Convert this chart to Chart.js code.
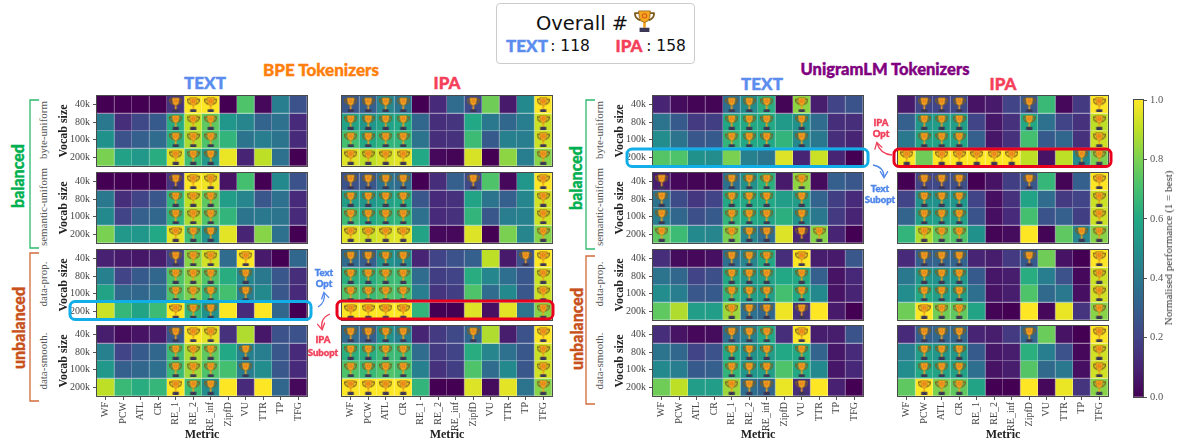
<!DOCTYPE html>
<html>
<head>
<meta charset="utf-8">
<title>Tokenizer heatmaps</title>
<script src="https://cdn.jsdelivr.net/npm/chart.js@4/dist/chart.umd.min.js"></script>
<style>
    body { margin: 0; background: #fff; }
    #page { position: relative; width: 1180px; height: 443px; overflow: hidden; }
    #page canvas { position: absolute; }
    #overlay { position: absolute; left: 0; top: 0; }
    .txt { position: absolute; white-space: nowrap; transform: translate(-50%, -50%); }
    .vert { transform: translate(-50%, -50%) rotate(-90deg); }
    .hand { font-family: "Lato"; font-weight: 900; -webkit-text-stroke: 0.4px currentColor; }
    .serif { font-family: "Liberation Serif"; color: #555; }
    #box { position: absolute; left: 496px; top: 3px; width: 197px; height: 59px; border: 1.5px solid #ccc; border-radius: 4px; }
</style>
</head>
<body>
<div id="page">
    <div id="box"></div>
    <svg id="overlay" width="1180" height="443" style="z-index:5">
        <defs>
            <marker id="headBlue" markerWidth="7" markerHeight="7" refX="5" refY="3.5" orient="auto"><path d="M0.5 0.5L5.5 3.5L0.5 6.5" fill="none" stroke="#4f86ea" stroke-width="1"/></marker>
            <marker id="headRed" markerWidth="7" markerHeight="7" refX="5" refY="3.5" orient="auto"><path d="M0.5 0.5L5.5 3.5L0.5 6.5" fill="none" stroke="#f0405a" stroke-width="1"/></marker>
        </defs>
        <!-- brackets -->
        <g fill="none" stroke-width="1.3">
            <path d="M39 100H30V248H39" stroke="#2bbb6d"/>
            <path d="M39 253H30V401H39" stroke="#d2693a"/>
            <path d="M595 100H586V249H595" stroke="#2bbb6d"/>
            <path d="M595 256H586V404H595" stroke="#d2693a"/>
        </g>
        <!-- highlighted rows -->
        <g fill="none" stroke-width="3">
            <rect x="70" y="301.5" width="241" height="18" rx="5" stroke="#12aee8"/>
            <rect x="337" y="301" width="216" height="18" rx="5" stroke="#e8001c"/>
            <rect x="627" y="149" width="241" height="17.5" rx="5" stroke="#12aee8"/>
            <rect x="894" y="149" width="217" height="17.5" rx="5" stroke="#e8001c"/>
        </g>
        <!-- arrows -->
        <g fill="none" stroke-width="1.3">
            <path d="M318 307Q326 302 324 293" stroke="#4f86ea" marker-end="url(#headBlue)"/>
            <path d="M330 314Q320 318 322 329" stroke="#f0405a" marker-end="url(#headRed)"/>
            <path d="M892 155Q880 154 877 143" stroke="#f0405a" marker-end="url(#headRed)"/>
            <path d="M873 165Q884 167 884 177" stroke="#4f86ea" marker-end="url(#headBlue)"/>
        </g>
    </svg>
</div>
<script>
const metrics = ['WF', 'PCW', 'ATL', 'CR', 'RE_1', 'RE_2', 'RE_inf', 'ZipfD', 'VU', 'TTR', 'TP', 'TFG'];
const vocabSizes = ['40k', '80k', '100k', '200k'];
const colorbarTicks = [0, 0.2, 0.4, 0.6, 0.8, 1];

// Values per panel, one row per vocab size
const bpeTextByte = [
    [0, 0, 0, 0, .15, 1, 1, 0, .72, .02, .42, .25],
    [.4, .13, .22, .28, .62, .9, .75, .52, .45, .32, .37, .12],
    [.5, .25, .3, .35, .63, .87, .72, .65, .38, .42, .38, .12],
    [.8, .57, .53, .62, .95, .68, .53, .97, .1, .9, .37, 0]
];
const bpeTextSemantic = [
    [0, 0, 0, 0, .16, 1, .98, .05, .7, 0, .47, .25],
    [.4, .13, .2, .27, .65, .9, .75, .55, .45, .27, .37, .12],
    [.47, .2, .3, .33, .65, .87, .72, .65, .38, .4, .38, .12],
    [.8, .53, .52, .6, .96, .68, .5, .96, .1, .82, .37, 0]
];
const bpeTextProp = [
    [.09, .07, .06, .08, .2, .82, .93, .35, 1, .07, 0, .33],
    [.43, .2, .28, .33, .72, .82, .72, .62, .46, .4, .27, .13],
    [.58, .34, .33, .37, .72, .8, .65, .7, .42, .47, .27, .12],
    [.92, .66, .58, .68, 1, .65, .5, 1, .12, 1, .33, 0]
];
const bpeTextSmooth = [
    [.08, .03, .05, .07, .27, 1, .96, .14, .88, .06, .25, .25],
    [.43, .2, .28, .33, .68, .87, .75, .6, .43, .42, .27, .12],
    [.53, .3, .33, .37, .68, .85, .72, .7, .42, .48, .27, .12],
    [.9, .67, .62, .66, 1, .68, .48, 1, .12, 1, .33, .02]
];
const bpeIpaByte = [
    [.27, .3, .45, .38, 0, .12, .35, .22, .78, .07, .47, 1],
    [.58, .52, .58, .6, .33, .13, .15, .6, .4, .33, .42, .92],
    [.7, .6, .65, .65, .38, .13, .14, .68, .28, .43, .42, .92],
    [.95, .9, .94, .96, .6, .02, .01, .94, 0, .83, .42, .82]
];
const bpeIpaSemantic = [
    [.25, .27, .38, .35, 0, .13, .3, .22, .72, .02, .52, 1],
    [.55, .52, .57, .6, .27, .12, .14, .58, .38, .3, .46, .93],
    [.68, .6, .64, .65, .37, .12, .14, .65, .27, .42, .43, .92],
    [.96, .92, .95, .96, .58, .02, .02, .95, 0, .8, .45, .82]
];
const bpeIpaProp = [
    [.35, .3, .5, .47, .1, .2, .25, .3, .9, .07, .25, 1],
    [.63, .62, .68, .68, .35, .18, .2, .62, .46, .36, .27, .92],
    [.72, .67, .72, .7, .42, .15, .18, .72, .35, .47, .27, .92],
    [1, 1, 1, 1, .65, 0, 0, .95, .04, .96, .38, .82]
];
const bpeIpaSmooth = [
    [.35, .3, .5, .43, .1, .17, .22, .33, .88, .08, .25, 1],
    [.63, .62, .68, .67, .35, .17, .2, .62, .45, .37, .27, .92],
    [.72, .67, .72, .7, .43, .14, .18, .72, .35, .47, .27, .93],
    [1, 1, 1, 1, .65, 0, 0, .95, .03, .96, .38, .82]
];
const uniTextByte = [
    [.1, .03, .01, .01, .37, .48, .62, .01, .83, .08, .2, .26],
    [.38, .28, .17, .18, .6, .6, .6, .54, .5, .35, .13, .13],
    [.48, .38, .27, .28, .65, .6, .6, .65, .47, .4, .13, .1],
    [.73, .72, .5, .48, .8, .43, .38, .95, .1, .92, .1, 0]
];
const uniTextSemantic = [
    [.08, .02, .01, .01, .37, .5, .63, .07, .83, .03, .3, .27],
    [.38, .23, .16, .2, .6, .6, .6, .55, .55, .32, .18, .12],
    [.42, .33, .24, .28, .65, .6, .58, .63, .5, .4, .17, .1],
    [.75, .68, .47, .45, .8, .45, .35, .95, .1, .82, .1, 0]
];
const uniTextProp = [
    [.13, .03, .02, .04, .37, .45, .6, .13, 1, .08, .07, .27],
    [.38, .33, .2, .24, .6, .53, .57, .6, .6, .3, .05, .11],
    [.48, .42, .27, .28, .65, .55, .55, .7, .6, .47, .05, .1],
    [.75, .88, .55, .55, .85, .37, .33, .98, .14, 1, .07, 0]
];
const uniTextSmooth = [
    [.13, .05, .02, .03, .37, .43, .6, .13, 1, .08, .08, .26],
    [.38, .33, .2, .25, .6, .5, .55, .6, .6, .32, .06, .12],
    [.47, .42, .28, .3, .65, .52, .55, .72, .6, .47, .06, .11],
    [.78, .9, .55, .55, .85, .36, .32, .97, .13, 1, .09, 0]
];
const uniIpaByte = [
    [.07, .2, .2, .22, .05, .07, .2, .27, .67, .02, .17, 1],
    [.3, .52, .55, .55, .2, .06, .14, .6, .37, .2, .14, .9],
    [.4, .58, .58, .58, .3, .06, .14, .7, .28, .33, .14, .92],
    [1, .78, 1, 1, 1, 1, 1, .9, .05, .9, .47, .8]
];
const uniIpaSemantic = [
    [0, .2, .22, .24, 0, .05, .18, .27, .66, .01, .3, 1],
    [.2, .5, .5, .52, .2, .04, .14, .58, .35, .17, .2, .92],
    [.32, .55, .55, .55, .26, .04, .12, .7, .26, .3, .18, .92],
    [.65, .88, .75, .72, .5, .01, .03, 1, .01, .75, .45, .82]
];
const uniIpaProp = [
    [.12, .3, .32, .32, .1, .08, .17, .28, .78, .05, 0, 1],
    [.4, .52, .5, .52, .28, .06, .08, .62, .42, .25, .02, .92],
    [.48, .6, .55, .55, .36, .05, .08, .72, .34, .4, .04, .93],
    [.78, 1, .78, .75, .58, .01, 0, 1, .02, .97, .15, .82]
];
const uniIpaSmooth = [
    [.12, .3, .33, .33, .1, .08, .17, .33, .77, .05, 0, 1],
    [.42, .55, .52, .52, .28, .06, .08, .63, .42, .25, .02, .93],
    [.48, .6, .58, .57, .36, .05, .08, .73, .34, .4, .04, .93],
    [.75, 1, .8, .75, .58, 0, 0, 1, .02, .97, .15, .82]
];

// Metrics that won a trophy, per vocab size
const bpeTextByteWins = [['RE_1', 'RE_2', 'RE_inf'], ['RE_1', 'RE_2', 'RE_inf'], ['RE_1', 'RE_2', 'RE_inf'], ['RE_1', 'RE_2', 'RE_inf']];
const bpeTextSemanticWins = [['RE_1', 'RE_2', 'RE_inf'], ['RE_1', 'RE_2', 'RE_inf'], ['RE_1', 'RE_2', 'RE_inf'], ['RE_1', 'RE_2', 'RE_inf']];
const bpeTextPropWins = [['RE_1', 'RE_2', 'RE_inf', 'VU'], ['RE_1', 'RE_2', 'RE_inf', 'VU'], ['RE_1', 'RE_2', 'RE_inf', 'VU'], ['RE_1', 'RE_2', 'RE_inf']];
const bpeTextSmoothWins = [['RE_1', 'RE_2', 'RE_inf'], ['RE_1', 'RE_2', 'RE_inf', 'VU'], ['RE_1', 'RE_2', 'RE_inf', 'VU'], ['RE_1', 'RE_2', 'RE_inf']];
const bpeIpaByteWins = [['WF', 'PCW', 'ATL', 'CR', 'ZipfD', 'TFG'], ['WF', 'PCW', 'ATL', 'CR', 'TFG'], ['WF', 'PCW', 'ATL', 'CR', 'TFG'], ['WF', 'PCW', 'ATL', 'CR', 'TFG']];
const bpeIpaSemanticWins = [['WF', 'PCW', 'ATL', 'CR', 'ZipfD', 'TFG'], ['WF', 'PCW', 'ATL', 'CR', 'TFG'], ['WF', 'PCW', 'ATL', 'CR', 'TFG'], ['WF', 'PCW', 'ATL', 'CR', 'TFG']];
const bpeIpaPropWins = [['WF', 'PCW', 'ATL', 'CR', 'TP', 'TFG'], ['WF', 'PCW', 'ATL', 'CR', 'TFG'], ['WF', 'PCW', 'ATL', 'CR', 'TFG'], ['WF', 'PCW', 'ATL', 'CR', 'TFG']];
const bpeIpaSmoothWins = [['WF', 'PCW', 'ATL', 'CR', 'ZipfD', 'TFG'], ['WF', 'PCW', 'ATL', 'CR', 'TFG'], ['WF', 'PCW', 'ATL', 'CR', 'TFG'], ['WF', 'PCW', 'ATL', 'CR', 'TFG']];
const uniTextByteWins = [['RE_1', 'RE_2', 'RE_inf', 'VU'], ['RE_1', 'RE_2', 'RE_inf', 'VU'], ['RE_1', 'RE_2', 'RE_inf', 'VU'], []];
const uniTextSemanticWins = [['WF', 'RE_1', 'RE_2', 'RE_inf', 'VU'], ['WF', 'RE_1', 'RE_2', 'RE_inf', 'VU'], ['WF', 'RE_1', 'RE_2', 'RE_inf', 'VU'], ['WF', 'RE_1', 'RE_2', 'RE_inf', 'VU', 'TTR']];
const uniTextPropWins = [['RE_1', 'RE_2', 'RE_inf', 'VU'], ['RE_1', 'RE_2', 'RE_inf', 'VU'], ['RE_1', 'RE_2', 'RE_inf', 'VU'], ['RE_1', 'RE_2', 'RE_inf', 'VU']];
const uniTextSmoothWins = [['RE_1', 'RE_2', 'RE_inf', 'VU'], ['RE_1', 'RE_2', 'RE_inf', 'VU'], ['RE_1', 'RE_2', 'RE_inf', 'VU'], ['RE_1', 'RE_2', 'RE_inf', 'VU']];
const uniIpaByteWins = [['PCW', 'ATL', 'CR', 'ZipfD', 'TFG'], ['PCW', 'ATL', 'CR', 'ZipfD', 'TFG'], ['PCW', 'ATL', 'CR', 'TFG'], ['WF', 'ATL', 'CR', 'RE_1', 'RE_2', 'RE_inf', 'TP', 'TFG']];
const uniIpaSemanticWins = [['PCW', 'ATL', 'CR', 'ZipfD', 'TFG'], ['PCW', 'ATL', 'CR', 'TFG'], ['PCW', 'ATL', 'CR', 'TFG'], ['PCW', 'ATL', 'CR', 'TP', 'TFG']];
const uniIpaPropWins = [['PCW', 'ATL', 'CR', 'ZipfD', 'TFG'], ['PCW', 'ATL', 'CR', 'TFG'], ['PCW', 'ATL', 'CR', 'TFG'], ['PCW', 'ATL', 'CR', 'TFG']];
const uniIpaSmoothWins = [['PCW', 'ATL', 'CR', 'ZipfD', 'TFG'], ['PCW', 'ATL', 'CR', 'TFG'], ['PCW', 'ATL', 'CR', 'TFG'], ['PCW', 'ATL', 'CR', 'TFG']];

// Layout of the panel grid
const panelLefts = [97, 342, 653, 898];
const panelTops = [96, 173, 250, 326];
const panelWidth = 210;
const panelHeight = 70;
const panels = [
    [bpeTextByte, bpeTextByteWins], [bpeIpaByte, bpeIpaByteWins], [uniTextByte, uniTextByteWins], [uniIpaByte, uniIpaByteWins],
    [bpeTextSemantic, bpeTextSemanticWins], [bpeIpaSemantic, bpeIpaSemanticWins], [uniTextSemantic, uniTextSemanticWins], [uniIpaSemantic, uniIpaSemanticWins],
    [bpeTextProp, bpeTextPropWins], [bpeIpaProp, bpeIpaPropWins], [uniTextProp, uniTextPropWins], [uniIpaProp, uniIpaPropWins],
    [bpeTextSmooth, bpeTextSmoothWins], [bpeIpaSmooth, bpeIpaSmoothWins], [uniTextSmooth, uniTextSmoothWins], [uniIpaSmooth, uniIpaSmoothWins]
];

const viridisStops = ['#440154', '#482475', '#414487', '#355f8d', '#2a788e', '#21918c', '#22a884', '#44bf70', '#7ad151', '#bddf26', '#fde725'];

function hexToRgb(hex) {
    return [1, 3, 5].map(i => parseInt(hex.slice(i, i + 2), 16));
}

function viridisRgb(v) {
    const pos = Math.min(Math.max(v, 0), 1) * (viridisStops.length - 1);
    const i = Math.min(Math.floor(pos), viridisStops.length - 2);
    const a = hexToRgb(viridisStops[i]);
    const b = hexToRgb(viridisStops[i + 1]);
    return a.map((c, k) => Math.round(c + (b[k] - c) * (pos - i)));
}

function viridis(v) {
    return `rgb(${viridisRgb(v).join(',')})`;
}

// Cell divider: the cell colour washed with white
function viridisLine(v) {
    return `rgb(${viridisRgb(v).map(c => Math.round(c + (255 - c) * 0.4)).join(',')})`;
}

function drawTrophy(ctx, w, h) {
    ctx.save();
    ctx.scale(w / 32, h / 36);
    ctx.lineJoin = 'round';
    // handles
    ctx.strokeStyle = '#7d5c1e';
    ctx.lineWidth = 2.8;
    ctx.beginPath();
    ctx.moveTo(8, 5);
    ctx.lineTo(1.5, 5);
    ctx.quadraticCurveTo(1, 14, 10, 17);
    ctx.moveTo(24, 5);
    ctx.lineTo(30.5, 5);
    ctx.quadraticCurveTo(31, 14, 22, 17);
    ctx.stroke();
    // stem
    ctx.fillStyle = '#f2a11d';
    ctx.fillRect(14, 20, 4, 9);
    // cup
    ctx.beginPath();
    ctx.moveTo(7, 1.5);
    ctx.lineTo(25, 1.5);
    ctx.lineTo(24, 12);
    ctx.quadraticCurveTo(23, 19, 16, 20.5);
    ctx.quadraticCurveTo(9, 19, 8, 12);
    ctx.closePath();
    ctx.fillStyle = '#f4a71f';
    ctx.fill();
    ctx.strokeStyle = '#8d5f14';
    ctx.lineWidth = 1.2;
    ctx.stroke();
    // star
    ctx.beginPath();
    ctx.arc(16, 9.5, 3.4, 0, Math.PI * 2);
    ctx.strokeStyle = '#d9541a';
    ctx.lineWidth = 1.6;
    ctx.stroke();
    // base
    ctx.fillStyle = '#3b3654';
    ctx.fillRect(8.5, 29, 15, 7);
    ctx.restore();
}

const trophy = document.createElement('canvas');
trophy.width = 13;
trophy.height = 15;
drawTrophy(trophy.getContext('2d'), 13, 15);

const page = document.getElementById('page');

function addCanvas(left, top, width, height) {
    const canvas = document.createElement('canvas');
    canvas.width = width;
    canvas.height = height;
    canvas.style.left = left + 'px';
    canvas.style.top = top + 'px';
    canvas.style.width = width + 'px';
    canvas.style.height = height + 'px';
    page.appendChild(canvas);
    return canvas;
}

function addText(text, x, y, className, style) {
    const el = document.createElement('div');
    el.className = 'txt ' + className;
    el.textContent = text;
    el.style.left = x + 'px';
    el.style.top = y + 'px';
    Object.assign(el.style, style);
    page.appendChild(el);
}

// Panel frame on all four sides
const framePlugin = {
    id: 'frame',
    afterDraw(chart) {
        const { left, top, width, height } = chart.chartArea;
        chart.ctx.save();
        chart.ctx.strokeStyle = '#4a4a4a';
        chart.ctx.lineWidth = 1;
        chart.ctx.strokeRect(left - 0.5, top - 0.5, width + 1, height + 1);
        chart.ctx.restore();
    }
};

// Fixed axis size with no edge padding, so that the plot area lands exactly on the panel
function fixAxis(scale, size) {
    if (scale.isHorizontal()) {
        scale.height = size;
    } else {
        scale.width = size;
    }
    scale.paddingLeft = 0;
    scale.paddingRight = 0;
    scale.paddingTop = 0;
    scale.paddingBottom = 0;
}

function buildPanel(values, wins, col, row) {
    const showY = col === 0 || col === 2;
    const showX = row === 3;
    const marginLeft = showY ? 40 : 1;
    const marginBottom = showX ? 47 : 1;
    const canvas = addCanvas(panelLefts[col] - marginLeft, panelTops[row] - 1, panelWidth + marginLeft + 1, panelHeight + marginBottom + 1);

    const datasets = values.map((rowValues, r) => ({
        type: 'bar',
        data: rowValues.map(() => [r, r + 1]),
        backgroundColor: rowValues.map(viridis),
        borderColor: rowValues.map(viridisLine),
        borderWidth: { top: 0, left: 0, right: 1, bottom: 1 },
        borderSkipped: false,
        xAxisID: 'x',
        yAxisID: 'yBars',
        order: 1
    }));
    datasets.push({
        type: 'scatter',
        data: wins.flatMap((names, r) => names.map(name => ({ x: name, y: vocabSizes[r] }))),
        pointStyle: trophy,
        pointRadius: 7,
        xAxisID: 'x',
        yAxisID: 'y',
        order: 0
    });

    new Chart(canvas, {
        type: 'bar',
        data: { labels: metrics, datasets },
        plugins: [framePlugin],
        options: {
            responsive: false,
            animation: false,
            devicePixelRatio: 1,
            layout: { autoPadding: false, padding: { left: showY ? 0 : 1, top: 1, right: 1, bottom: showX ? 0 : 1 } },
            plugins: { legend: { display: false }, tooltip: { enabled: false } },
            datasets: { bar: { grouped: false, barPercentage: 1, categoryPercentage: 1 } },
            scales: {
                x: {
                    type: 'category',
                    offset: true,
                    display: showX,
                    afterFit: scale => fixAxis(scale, showX ? marginBottom : 0),
                    grid: { offset: false, drawOnChartArea: false, tickLength: 4, tickColor: '#555' },
                    border: { display: false },
                    ticks: { autoSkip: false, minRotation: 90, maxRotation: 90, padding: 2, color: '#444', font: { family: 'Liberation Serif', size: 10 } },
                    title: { display: true, text: 'Metric', color: '#222', padding: { top: 0, bottom: 1 }, font: { family: 'Liberation Serif', size: 12, weight: 'bold' } }
                },
                y: {
                    type: 'category',
                    labels: vocabSizes,
                    offset: true,
                    display: showY,
                    afterFit: scale => fixAxis(scale, showY ? marginLeft : 0),
                    grid: { offset: false, drawOnChartArea: false, tickLength: 4, tickColor: '#555' },
                    border: { display: false },
                    ticks: { autoSkip: false, padding: 3, color: '#444', font: { family: 'Liberation Serif', size: 10 } },
                    title: { display: true, text: 'Vocab size', color: '#222', padding: 0, font: { family: 'Liberation Serif', size: 12, weight: 'bold' } }
                },
                yBars: { type: 'linear', min: 0, max: vocabSizes.length, reverse: true, display: false }
            }
        }
    });
}

panels.forEach((panel, i) => buildPanel(panel[0], panel[1], i % 4, Math.floor(i / 4)));

// Colorbar
function viridisGradient(context) {
    const area = context.chart.chartArea;
    if (!area) return viridisStops[5];
    const gradient = context.chart.ctx.createLinearGradient(0, area.bottom, 0, area.top);
    viridisStops.forEach((stop, i) => gradient.addColorStop(i / (viridisStops.length - 1), stop));
    return gradient;
}

new Chart(addCanvas(1133, 95, 47, 307), {
    type: 'bar',
    data: { labels: [''], datasets: [{ data: [[0, 1]], backgroundColor: viridisGradient, barPercentage: 1, categoryPercentage: 1 }] },
    plugins: [framePlugin],
    options: {
        responsive: false,
        animation: false,
        devicePixelRatio: 1,
        layout: { autoPadding: false, padding: { left: 1, top: 5, right: 0, bottom: 5 } },
        plugins: { legend: { display: false }, tooltip: { enabled: false } },
        scales: {
            x: { display: false },
            y: {
                position: 'right',
                min: 0,
                max: 1,
                afterBuildTicks: scale => { scale.ticks = colorbarTicks.map(value => ({ value })); },
                afterFit: scale => fixAxis(scale, 37),
                grid: { drawOnChartArea: false, tickLength: 4, tickColor: '#555' },
                border: { display: false },
                ticks: { padding: 3, color: '#555', font: { family: 'Liberation Serif', size: 10.5 }, callback: v => v.toFixed(1) }
            }
        }
    }
});
addText('Normalised performance (1 = best)', 1168, 248, 'serif vert', { fontSize: '11px', color: '#333' });

// Headings
addText('BPE Tokenizers', 321, 69, 'hand', { fontSize: '17px', color: '#ff7f0e' });
addText('UnigramLM Tokenizers', 885, 69, 'hand', { fontSize: '16.5px', color: '#800080' });
[[205, 82, 'TEXT'], [762, 83, 'TEXT']].forEach(t => addText(t[2], t[0], t[1], 'hand', { fontSize: '17px', color: '#5b8def' }));
[[447, 82, 'IPA'], [1003, 83, 'IPA']].forEach(t => addText(t[2], t[0], t[1], 'hand', { fontSize: '17px', color: '#f5405a' }));

// Group labels at the left of each block
addText('balanced', 17, 176, 'hand vert', { fontSize: '16px', color: '#00b050' });
addText('balanced', 575, 178, 'hand vert', { fontSize: '16px', color: '#00b050' });
addText('unbalanced', 18, 328, 'hand vert', { fontSize: '16px', color: '#c8511b' });
addText('unbalanced', 576, 329, 'hand vert', { fontSize: '16px', color: '#c8511b' });

const strategyNames = ['byte-uniform', 'semantic-uniform', 'data-prop.', 'data-smooth.'];
const strategyCenters = [130, 207, 284, 361];
strategyNames.forEach((name, i) => {
    addText(name, 43, strategyCenters[i], 'serif vert', { fontSize: '11px' });
    addText(name, 599, strategyCenters[i], 'serif vert', { fontSize: '11px' });
});

// Annotations near the highlighted rows
[[324, 272, 'Text'], [324, 283, 'Opt'], [880, 188, 'Text'], [880, 199, 'Subopt']].forEach(t =>
    addText(t[2], t[0], t[1], 'hand', { fontSize: '9.5px', color: '#4f86ea', zIndex: 6 }));
[[323, 339, 'IPA'], [323, 352, 'Subopt'], [881, 122, 'IPA'], [881, 133, 'Opt']].forEach(t =>
    addText(t[2], t[0], t[1], 'hand', { fontSize: '9.5px', color: '#f0405a', zIndex: 6 }));

// Overall box
addText('Overall #', 582, 23, '', { fontFamily: 'DejaVu Sans', fontSize: '19.5px', color: '#111' });
addText('TEXT', 527, 45, 'hand', { fontSize: '17px', color: '#5b8def' });
addText(': 118', 570, 46, '', { fontFamily: 'DejaVu Sans', fontSize: '15.5px', color: '#111' });
addText('IPA', 629, 45, 'hand', { fontSize: '17px', color: '#f5405a' });
addText(': 158', 666, 46, '', { fontFamily: 'DejaVu Sans', fontSize: '15.5px', color: '#111' });
const bigTrophy = addCanvas(634, 10, 21, 22);
drawTrophy(bigTrophy.getContext('2d'), 21, 22);
</script>
</body>
</html>
